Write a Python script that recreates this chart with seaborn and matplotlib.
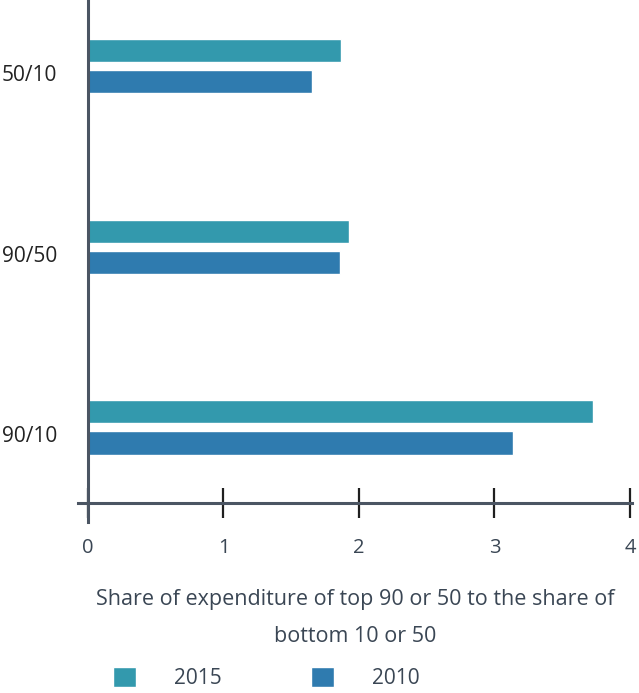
import matplotlib
matplotlib.use("Agg")
import matplotlib.pyplot as plt
import matplotlib.transforms as mtransforms
import seaborn as sns
import pandas as pd

# Données
ratios = ["50/10", "90/50", "90/10"]
valeurs_2015 = [1.87, 1.93, 3.73]
valeurs_2010 = [1.65, 1.86, 3.14]
annees = ["2015", "2010"]
graduations_x = [0, 1, 2, 3, 4]

couleurs = {"2015": "#3399AD", "2010": "#2F7BAF"}
gris_texte = "#3a4654"
gris_axe = "#4b5563"

df = pd.DataFrame({
    "ratio": ratios * 2,
    "valeur": valeurs_2015 + valeurs_2010,
    "annee": [annees[0]] * 3 + [annees[1]] * 3,
})

sns.set_style("white")
plt.rcParams["font.family"] = ["Open Sans", "DejaVu Sans"]

fig = plt.figure(figsize=(6.39, 6.93), dpi=100)
ax = fig.add_axes([78 / 639, 1 - 522 / 693, (632 - 78) / 639, 522 / 693])

sns.barplot(data=df, y="ratio", x="valeur", hue="annee", orient="h",
            palette=couleurs, width=0.344, gap=0.256, saturation=1,
            order=ratios, hue_order=annees, ax=ax)

handles, labels = ax.get_legend_handles_labels()
ax.get_legend().remove()

ax.set_xlim(-0.0738, 4.015)
ax.set_ylim(2.523, -0.365)

for s in ["top", "right"]:
    ax.spines[s].set_visible(False)
ax.spines["left"].set_position(("data", 0))
ax.spines["bottom"].set_position(("data", 2.418))
for s in ["left", "bottom"]:
    ax.spines[s].set_color(gris_axe)
    ax.spines[s].set_linewidth(2.2)

ax.set_xticks(graduations_x)
ax.set_xticklabels([str(g) for g in graduations_x])
ax.tick_params(axis="x", bottom=True, direction="inout", length=21, width=1.6,
               color="#1f1f1f", pad=15, labelsize=14.5, labelcolor=gris_texte)
ax.tick_params(axis="y", left=False, length=0, pad=62, labelsize=15, labelcolor="#222222")
decalage = mtransforms.ScaledTranslation(0, -7 / 100, fig.dpi_scale_trans)
for lab in ax.get_yticklabels():
    lab.set_horizontalalignment("left")
    lab.set_transform(lab.get_transform() + decalage)

ax.set_ylabel("")
ax.set_xlabel("Share of expenditure of top 90 or 50 to the share of\nbottom 10 or 50",
              fontsize=15.5, color=gris_texte, linespacing=1.97, labelpad=22)

fig.legend(handles, labels, loc="upper left", bbox_to_anchor=(113 / 639, 1 - 667 / 693),
           ncol=2, frameon=False, fontsize=15, labelcolor=gris_texte,
           handlelength=1.1, handleheight=1.1, handletextpad=1.82,
           columnspacing=4.3, borderpad=0, borderaxespad=0)

plt.savefig("out.png", dpi=100)
plt.close()
